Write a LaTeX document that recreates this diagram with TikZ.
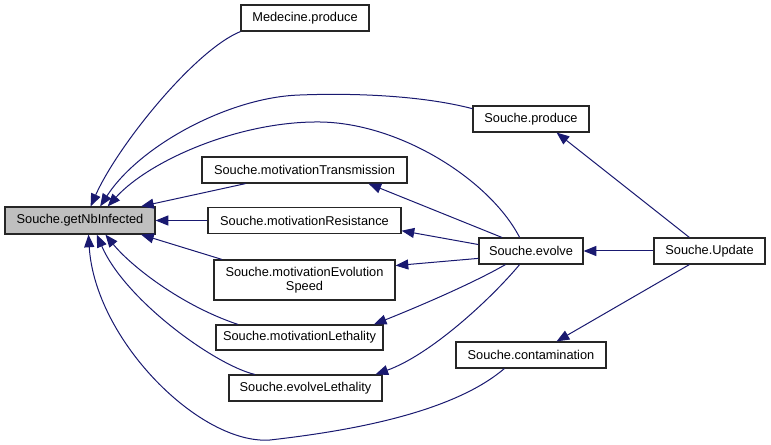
\documentclass[tikz,border=0pt]{standalone}
\usepackage{fontspec}
\setmainfont{Liberation Sans}
\usetikzlibrary{arrows.meta}
\definecolor{edgeblue}{HTML}{191970}
\definecolor{nodegray}{HTML}{BFBFBF}

\begin{document}
\begin{tikzpicture}[x=0.75pt, y=-0.75pt,
	box/.style={draw=black!85, line width=0.9pt, fill=white, inner sep=2pt, minimum height=19.5pt, align=center, font=\fontsize{9.6}{10.8}\selectfont},
	edge/.style={draw=edgeblue, line width=0.75pt, -{Triangle[length=9.5pt, width=7.5pt]}}]
				\useasboundingbox (0,0) rectangle (771,445);
				
				\node[box, fill=nodegray, minimum width=112.5pt, minimum height=20.25pt] (nb) at (80,220.5) {Souche.getNbInfected};
				\node[box, minimum width=96pt] (md) at (305,18) {Medecine.produce};
				\node[box, minimum width=87pt] (sp) at (531,119) {Souche.produce};
				\node[box, minimum width=153.75pt] (mt) at (304.5,170) {Souche.motivationTransmission};
				\node[box, minimum width=144.75pt] (mr) at (304.5,220.5) {Souche.motivationResistance};
				\node[box, minimum width=135.75pt, minimum height=30pt] (mes) at (304.5,280) {Souche.motivationEvolution\\Speed};
				\node[box, minimum width=125.25pt, minimum height=18.75pt] (ml) at (299.5,337.5) {Souche.motivationLethality};
				\node[box, minimum width=114.75pt] (el) at (305.5,388) {Souche.evolveLethality};
				\node[box, minimum width=78pt] (ev) at (531,251) {Souche.evolve};
				\node[box, minimum width=83.25pt] (up) at (709.5,251) {Souche.Update};
				\node[box, minimum width=112.5pt] (con) at (531,355) {Souche.contamination};
				
				% callers of getNbInfected
				\draw[edge] (md.south west) .. controls (195,50) and (118,145) .. (nb.53);
				\draw[edge] (sp.170) .. controls (420,95) and (350,93) .. (300,95) .. controls (230,97) and (140,145) .. (nb.35);
				\draw[edge] (ev.130) .. controls (490,180) and (400,123) .. (320,122) .. controls (240,121) and (150,160) .. (nb.27);
				\draw[edge] (mt.193) -- (nb.13);
				\draw[edge] (mr.west) -- (nb.east);
				\draw[edge] (mes.166) -- (nb.-13);
				\draw[edge] (ml.168) .. controls (180,305) and (130,265) .. (nb.-29);
				\draw[edge] (el.165) .. controls (215,365) and (125,300) .. (nb.-40);
				\draw[edge] (con.207) .. controls (450,415) and (340,432) .. (270,440) .. controls (200,445) and (95,340) .. (nb.-59);
				
				% callers of the motivations
				\draw[edge] (ev.155) -- (mt.-12);
				\draw[edge] (ev.173) -- (mr.-6);
				\draw[edge] (ev.188) -- (mes.9);
				\draw[edge] (ev.208) .. controls (470,285) and (410,310) .. (ml.10);
				\draw[edge] (ev.230) .. controls (490,300) and (430,355) .. (el.11);
				
				\draw[edge] (up.west) -- (ev.east);
				\draw[edge] (up.146) -- (sp.-28);
				\draw[edge] (up.214) -- (con.28);
			\end{tikzpicture}
\end{document}
